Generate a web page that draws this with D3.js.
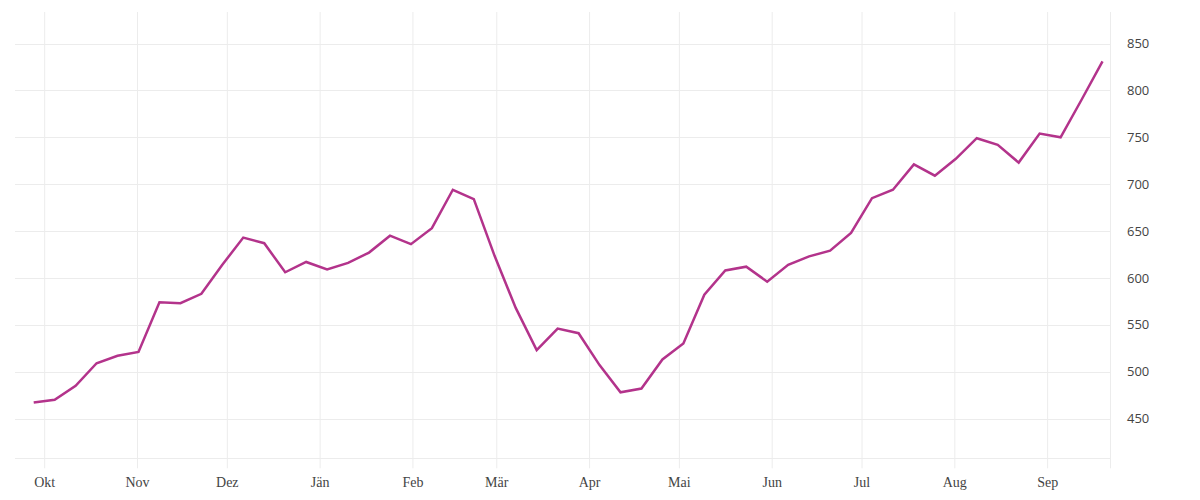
<!DOCTYPE html>
<html>
<head>
<meta charset="utf-8">
<script src="https://cdn.jsdelivr.net/npm/d3@7"></script>
<style>
  html, body { margin: 0; padding: 0; background: #fff; }
  svg { display: block; }
</style>
</head>
<body>
<svg id="chart" width="1200" height="500"></svg>
<script>
// Weekly observation dates (Sundays)
const dates = [
  "2020-09-27","2020-10-04","2020-10-11","2020-10-18","2020-10-25","2020-11-01","2020-11-08","2020-11-15",
  "2020-11-22","2020-11-29","2020-12-06","2020-12-13","2020-12-20","2020-12-27","2021-01-03","2021-01-10",
  "2021-01-17","2021-01-24","2021-01-31","2021-02-07","2021-02-14","2021-02-21","2021-02-28","2021-03-07",
  "2021-03-14","2021-03-21","2021-03-28","2021-04-04","2021-04-11","2021-04-18","2021-04-25","2021-05-02",
  "2021-05-09","2021-05-16","2021-05-23","2021-05-30","2021-06-06","2021-06-13","2021-06-20","2021-06-27",
  "2021-07-04","2021-07-11","2021-07-18","2021-07-25","2021-08-01","2021-08-08","2021-08-15","2021-08-22",
  "2021-08-29","2021-09-05","2021-09-12","2021-09-19"
];
const values = [
  467, 470, 485, 509, 517, 521, 574, 573,
  583, 614, 643, 637, 606, 617, 609, 616,
  627, 645, 636, 653, 694, 684, 623, 568,
  523, 546, 541, 507, 478, 482, 513, 530,
  582, 608, 612, 596, 614, 623, 629, 648,
  685, 694, 721, 709, 727, 749, 742, 723,
  754, 750, 790, 831
];
const yTicks = [450, 500, 550, 600, 650, 700, 750, 800, 850];
const monthTicks = ["2020-10-01","2020-11-01","2020-12-01","2021-01-01","2021-02-01","2021-03-01",
  "2021-04-01","2021-05-01","2021-06-01","2021-07-01","2021-08-01","2021-09-01"];
const monthLabels = ["Okt","Nov","Dez","Jän","Feb","Mär","Apr","Mai","Jun","Jul","Aug","Sep"];

const parse = d3.utcParse("%Y-%m-%d");
const data = dates.map((d, i) => ({ date: d3.utcHour.offset(parse(d), 12), value: values[i] }));
const tickDates = monthTicks.map(parse);

const svg = d3.select("#chart");
const pLeft = 15, pRight = 1110, pTop = 12, pBottom = 458.3;

const x = d3.scaleUtc()
  .domain([d3.utcHour.offset(parse("2020-09-21"), 6), parse("2021-09-22")])
  .range([pLeft, pRight]);
const y = d3.scaleLinear()
  .domain([407.6, 883.6])
  .range([pBottom, pTop]);

const grid = "#ececec";

// horizontal grid lines
svg.append("g").selectAll("line")
  .data(yTicks)
  .join("line")
  .attr("x1", pLeft).attr("x2", pRight)
  .attr("y1", d => Math.round(y(d)) + 0.5).attr("y2", d => Math.round(y(d)) + 0.5)
  .attr("stroke", grid).attr("stroke-width", 1);

// bottom line
svg.append("line")
  .attr("x1", pLeft).attr("x2", pRight)
  .attr("y1", Math.round(pBottom) + 0.5).attr("y2", Math.round(pBottom) + 0.5)
  .attr("stroke", grid).attr("stroke-width", 1);

// vertical grid lines (month ticks) extending below the plot
const xAxis = d3.axisBottom(x)
  .tickValues(tickDates)
  .tickSize(pBottom + 10 - pTop)
  .tickFormat((d, i) => monthLabels[i]);
const gx = svg.append("g")
  .attr("transform", `translate(0,${pTop})`)
  .call(xAxis);
gx.select(".domain").remove();
gx.selectAll(".tick line").attr("stroke", grid).attr("stroke-width", 1);
gx.selectAll(".tick text")
  .attr("dy", 0)
  .attr("y", pBottom + 10 - pTop + 19)
  .attr("fill", "#444")
  .style("font-family", "'Liberation Serif', 'DejaVu Serif', serif")
  .style("font-size", "14px");

// right border line
svg.append("line")
  .attr("x1", Math.round(pRight) + 0.5).attr("x2", Math.round(pRight) + 0.5)
  .attr("y1", pTop).attr("y2", pBottom + 10)
  .attr("stroke", grid).attr("stroke-width", 1);

// y axis labels on the right
const yAxis = d3.axisRight(y).tickValues(yTicks).tickSize(0).tickPadding(0);
const gy = svg.append("g")
  .attr("transform", `translate(1127,0)`)
  .call(yAxis);
gy.select(".domain").remove();
gy.selectAll(".tick text")
  .attr("fill", "#444")
  .style("font-family", "'Open Sans', 'Noto Sans', sans-serif")
  .style("font-size", "13px");

// line
const line = d3.line()
  .x(d => x(d.date))
  .y(d => y(d.value));
svg.append("path")
  .datum(data)
  .attr("d", line)
  .attr("fill", "none")
  .attr("stroke", "#b3338b")
  .attr("stroke-width", 2.5)
  .attr("stroke-linejoin", "miter");
</script>
</body>
</html>
